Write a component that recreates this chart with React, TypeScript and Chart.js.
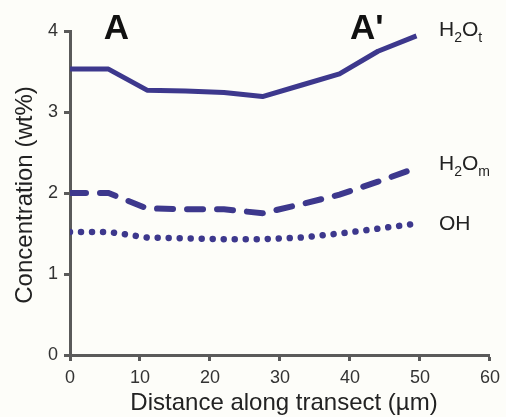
import React, { useEffect, useRef } from "react";
import { Chart, registerables } from "chart.js";

Chart.register(...registerables);

const distance = [0, 5.5, 11, 16.5, 22, 27.5, 33, 38.5, 44, 49.5];
const distanceOH = [0, 5.5, 11, 16.5, 22, 27.5, 33, 38.5, 44, 49.3];
const h2oT = [3.53, 3.53, 3.27, 3.26, 3.24, 3.19, 3.33, 3.47, 3.75, 3.94];
const h2oM = [2.0, 2.0, 1.81, 1.8, 1.8, 1.75, 1.86, 1.98, 2.14, 2.31];
const oh = [1.52, 1.52, 1.45, 1.44, 1.43, 1.43, 1.45, 1.5, 1.56, 1.62];
const xTicks = [0, 10, 20, 30, 40, 50, 60];
const yTicks = [0, 1, 2, 3, 4];

const LINE = "#3d388d";
const AXIS = "#5a5a5a";
const FONT = "'Liberation Sans', Arial, sans-serif";

const toPts = (xs: number[], ys: number[]) => xs.map((x, i) => ({ x, y: ys[i] }));

const textPlugin = {
  id: "texts",
  beforeDraw(chart: any) {
    const ctx = chart.ctx;
    ctx.save();
    ctx.fillStyle = "#fdfdf9";
    ctx.fillRect(0, 0, chart.width, chart.height);
    ctx.restore();
  },
  afterDraw(chart: any) {
    const ctx = chart.ctx;
    ctx.save();
    ctx.fillStyle = "#111";
    ctx.textBaseline = "alphabetic";
    // A and A'
    ctx.font = `bold 35px ${FONT}`;
    ctx.textAlign = "center";
    ctx.fillText("A", 116.5, 39);
    ctx.textAlign = "left";
    ctx.fillText("A'", 350, 39);

    // series labels with subscripts
    const drawLabel = (parts: [string, boolean][], x: number, y: number) => {
      let cx = x;
      for (const [t, sub] of parts) {
        ctx.font = sub ? `14px ${FONT}` : `21px ${FONT}`;
        ctx.fillStyle = "#222";
        ctx.fillText(t, cx, sub ? y + 6 : y);
        cx += ctx.measureText(t).width;
      }
    };
    drawLabel([["H", false], ["2", true], ["O", false], ["t", true]], 439, 36);
    drawLabel([["H", false], ["2", true], ["O", false], ["m", true]], 439, 170);
    drawLabel([["OH", false]], 439, 230);

    // axis titles
    ctx.fillStyle = "#222";
    ctx.font = `24px ${FONT}`;
    ctx.textAlign = "center";
    ctx.fillText("Distance along transect (\u00b5m)", 284, 410);
    ctx.save();
    ctx.translate(32, 195);
    ctx.rotate(-Math.PI / 2);
    ctx.fillText("Concentration (wt%)", 0, 0);
    ctx.restore();
    ctx.restore();
  },
};

export default function App() {
  const ref = useRef<HTMLCanvasElement | null>(null);
  useEffect(() => {
    if (!ref.current) return;
    const chart = new Chart(ref.current, {
      type: "line",
      data: {
        datasets: [
          {
            label: "H2Ot",
            data: toPts(distance, h2oT),
            borderColor: LINE,
            borderWidth: 5,
            pointRadius: 0,
            borderCapStyle: "butt",
            borderJoinStyle: "round",
          },
          {
            label: "H2Om",
            data: toPts(distance, h2oM),
            borderColor: LINE,
            borderWidth: 6,
            pointRadius: 0,
            borderDash: [16, 14],
            borderCapStyle: "round",
          },
          {
            label: "OH",
            data: toPts(distanceOH, oh),
            borderColor: LINE,
            borderWidth: 6.5,
            pointRadius: 0,
            borderDash: [0.01, 11],
            borderCapStyle: "round",
          },
        ],
      },
      options: {
        responsive: false,
        animation: false,
        layout: { padding: { top: 31, right: 11, left: 0, bottom: 0 } },
        plugins: { legend: { display: false }, tooltip: { enabled: false } },
        scales: {
          x: {
            type: "linear",
            min: 0,
            max: 60,
            afterFit: (s: any) => {
              s.height = 62;
            },
            afterBuildTicks: (s: any) => {
              s.ticks = xTicks.map((v) => ({ value: v }));
            },
            ticks: {
              color: "#333",
              font: { family: FONT, size: 18 },
              padding: 6,
              maxRotation: 0,
            },
            grid: {
              drawOnChartArea: false,
              drawTicks: true,
              tickLength: 6,
              tickWidth: 3,
              tickColor: AXIS,
            },
            border: { display: true, color: AXIS, width: 3 },
          },
          y: {
            type: "linear",
            min: 0,
            max: 4,
            afterFit: (s: any) => {
              s.width = 70;
            },
            afterBuildTicks: (s: any) => {
              s.ticks = yTicks.map((v) => ({ value: v }));
            },
            ticks: {
              color: "#333",
              font: { family: FONT, size: 18 },
              padding: 6,
            },
            grid: {
              drawOnChartArea: false,
              drawTicks: true,
              tickLength: 6,
              tickWidth: 3,
              tickColor: AXIS,
            },
            border: { display: true, color: AXIS, width: 3 },
          },
        },
      },
      plugins: [textPlugin],
    } as any);
    return () => chart.destroy();
  }, []);
  return (
    <div style={{ position: "fixed", left: 0, top: 0, width: 506, height: 417 }}>
      <canvas ref={ref} width={506} height={417} style={{ width: 506, height: 417 }} />
    </div>
  );
}
